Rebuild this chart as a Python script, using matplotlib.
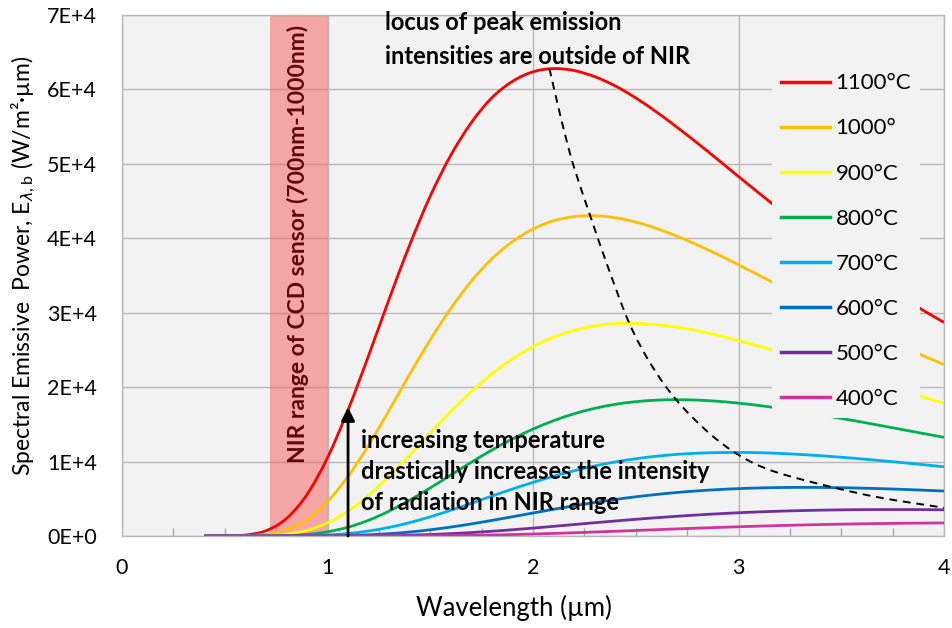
import matplotlib
matplotlib.use('Agg')
import matplotlib.pyplot as plt
from matplotlib.ticker import MultipleLocator
from matplotlib.path import Path
from matplotlib.patches import PathPatch
from matplotlib.lines import Line2D

plt.rcParams['font.family'] = ['Lato', 'DejaVu Sans']

# ---------------- data ----------------
wavelength = [0.4, 0.5, 0.6, 0.7, 0.8, 0.9, 1.0, 1.1, 1.2, 1.3, 1.4, 1.5, 1.6,
              1.7, 1.8, 1.9, 2.0, 2.1, 2.2, 2.3, 2.4, 2.5, 2.6, 2.7, 2.8, 2.9,
              3.0, 3.1, 3.2, 3.3, 3.4, 3.5, 3.6, 3.7, 3.8, 3.9, 4.0]

e_1100 = [0, 9, 126, 702, 2340, 5573, 10517, 16936, 24239, 31833, 39110, 45670,
          51157, 55543, 58888, 61083, 62367, 62799, 62540, 61719, 60483, 58860,
          56993, 54938, 52787, 50565, 48303, 46072, 43871, 41699, 39596, 37558,
          35608, 33769, 32018, 30296, 28706]
e_1000 = [0, 2, 32, 217, 837, 2228, 4620, 8012, 12206, 16896, 21729, 26351,
          30580, 34227, 37246, 39550, 41248, 42360, 42913, 43034, 42761, 42182,
          41331, 40295, 39106, 37811, 36447, 35032, 33611, 32184, 30766, 29380,
          28015, 26701, 25432, 24212, 23026]
e_900 = [0, 0, 6, 55, 251, 764, 1763, 3340, 5472, 8050, 10899, 13850, 16731,
         19393, 21772, 23802, 25443, 26720, 27640, 28223, 28534, 28574, 28399,
         28063, 27568, 26956, 26260, 25494, 24673, 23827, 22960, 22085, 21208,
         20348, 19499, 18666, 17861]
e_800 = [0, 0, 0, 11, 60, 215, 563, 1183, 2114, 3345, 4822, 6465, 8193, 9908,
         11541, 13039, 14360, 15490, 16420, 17150, 17687, 18049, 18247, 18314,
         18256, 18099, 17850, 17533, 17157, 16737, 16283, 15798, 15307, 14797,
         14285, 13770, 13260]
e_700 = [0, 0, 0, 0, 11, 46, 142, 338, 670, 1159, 1801, 2580, 3461, 4404, 5365,
         6310, 7205, 8030, 8767, 9406, 9944, 10376, 10716, 10967, 11122, 11206,
         11224, 11191, 11097, 10957, 10786, 10582, 10356, 10109, 9849, 9579, 9298]
e_600 = [0, 0, 0, 0, 0, 7, 26, 73, 164, 315, 538, 835, 1201, 1626, 2094, 2588,
         3089, 3585, 4059, 4500, 4905, 5266, 5578, 5845, 6062, 6235, 6366, 6455,
         6510, 6531, 6521, 6489, 6430, 6353, 6262, 6155, 6037]
e_500 = [0, 0, 0, 0, 0, 0, 3, 10, 28, 61, 117, 202, 317, 464, 640, 842, 1064,
         1298, 1539, 1781, 2017, 2243, 2455, 2650, 2827, 2985, 3121, 3238, 3334,
         3411, 3471, 3513, 3540, 3553, 3554, 3542, 3519]
e_400 = [0, 0, 0, 0, 0, 0, 0, 0, 3, 8, 16, 32, 56, 91, 138, 197, 267, 348, 438,
         535, 637, 742, 848, 952, 1053, 1150, 1240, 1325, 1403, 1473, 1536, 1591,
         1638, 1677, 1710, 1736, 1755]

series_labels = ['1100°C', '1000°', '900°C', '800°C', '700°C', '600°C', '500°C', '400°C']
series_values = [e_1100, e_1000, e_900, e_800, e_700, e_600, e_500, e_400]
series_colors = ['#ff0000', '#ffc000', '#ffff00', '#00b050', '#00b0f0',
                 '#0070c0', '#7030a0', '#d0359f']

# locus of peak emission (dashed)
locus_x = [2.08, 2.12, 2.16, 2.20, 2.28, 2.36, 2.47, 2.58, 2.70, 2.85, 3.00,
           3.17, 3.45, 3.70, 4.00]
locus_y = [62800, 58000, 53500, 49500, 42900, 36500, 28500, 22800, 18200,
           14000, 10900, 8700, 6600, 5100, 3800]

nir_band = [0.72, 1.0]
arrow_x = 1.1
arrow_top = 17300

y_ticks = [0, 10000, 20000, 30000, 40000, 50000, 60000, 70000]
y_tick_labels = ['0E+0', '1E+4', '2E+4', '3E+4', '4E+4', '5E+4', '6E+4', '7E+4']
x_ticks = [0, 1, 2, 3, 4]
x_tick_labels = ['0', '1', '2', '3', '4']


def smooth_path(xs, ys):
    """Smoothed (Catmull-Rom style Bezier) line through the data points,
    like a spreadsheet 'smoothed line'."""
    n = len(xs)
    verts = [(xs[0], ys[0])]
    codes = [Path.MOVETO]
    for i in range(n - 1):
        im1 = max(i - 1, 0)
        ip2 = min(i + 2, n - 1)
        c1 = (xs[i] + (xs[i + 1] - xs[im1]) / 6.0,
              ys[i] + (ys[i + 1] - ys[im1]) / 6.0)
        c2 = (xs[i + 1] - (xs[ip2] - xs[i]) / 6.0,
              ys[i + 1] - (ys[ip2] - ys[i]) / 6.0)
        verts += [c1, c2, (xs[i + 1], ys[i + 1])]
        codes += [Path.CURVE4] * 3
    return Path(verts, codes)


# ---------------- figure ----------------
W, H = 952, 628
fig = plt.figure(figsize=(W / 100, H / 100), dpi=100)
ax = fig.add_axes([122 / W, 92 / H, 822 / W, 521 / H])
ax.set_facecolor('#f2f2f2')
ax.set_xlim(0, 4)
ax.set_ylim(0, 70000)
ax.set_axisbelow(True)

ax.grid(True, which='major', color='#b8b8b8', lw=1)
ax.axvspan(nir_band[0], nir_band[1], facecolor='#f75a5a', alpha=0.5,
           edgecolor='none', zorder=1)

handles = []
for k, (vals, lab, col) in enumerate(zip(series_values, series_labels, series_colors)):
    patch = PathPatch(smooth_path(wavelength, vals), facecolor='none',
                      edgecolor=col, lw=2.0, capstyle='butt', joinstyle='round',
                      zorder=3 + 0.01 * k)
    ax.add_patch(patch)
    handles.append(Line2D([], [], color=col, lw=2.5, label=lab))

ax.add_patch(PathPatch(smooth_path(locus_x, locus_y), facecolor='none',
                       edgecolor='black', lw=1.4, ls=(0, (4, 3)), zorder=4))

ax.annotate('', xy=(arrow_x, arrow_top), xytext=(arrow_x, 0),
            arrowprops=dict(arrowstyle='-|>', color='black', lw=2,
                            mutation_scale=20, shrinkA=0, shrinkB=0), zorder=5)

ax.text(0.857, 39200, 'NIR range of CCD sensor (700nm-1000nm)', rotation=90,
        ha='center', va='center', fontsize=16.5, fontweight='bold',
        color='#5e0a0a', zorder=5)
ax.text(1.28, 70550, 'locus of peak emission\nintensities are outside of NIR',
        ha='left', va='top', fontsize=17, fontweight='bold', color='black',
        linespacing=1.6, zorder=5)
ax.text(1.165, 14400,
        'increasing temperature\ndrastically increases the intensity\nof radiation in NIR range',
        ha='left', va='top', fontsize=17, fontweight='bold', color='black',
        linespacing=1.43, zorder=5)

ax.set_yticks(y_ticks)
ax.set_yticklabels(y_tick_labels)
ax.set_xticks(x_ticks)
ax.set_xticklabels(x_tick_labels)
ax.xaxis.set_minor_locator(MultipleLocator(0.25))
ax.tick_params(axis='both', which='major', length=0, labelsize=15.5,
               colors='black')
ax.tick_params(axis='y', which='major', pad=18)
ax.tick_params(axis='x', which='major', pad=16)
ax.tick_params(axis='x', which='minor', direction='in', length=6,
               color='#a6a6a6', width=1)
for sp in ax.spines.values():
    sp.set_color('#b8b8b8')
    sp.set_linewidth(1)

ax.set_xlabel('Wavelength (µm)', fontsize=18.5)
ax.xaxis.set_label_coords(0.477, -0.113)
ax.set_ylabel(r'Spectral Emissive  Power, E$_{\lambda\mathregular{,b}}$ (W/m²·µm)',
              fontsize=16.5)
ax.yaxis.set_label_coords(-0.102, 0.518)

leg = ax.legend(handles=handles, loc='upper left',
                bbox_to_anchor=(0.791, 0.905), borderaxespad=0, fontsize=16,
                frameon=True, facecolor='#f2f2f2', edgecolor='none',
                framealpha=1, fancybox=False, handlelength=2.2,
                handletextpad=0.25, labelspacing=1.13, borderpad=0.4)
leg.set_zorder(10)

fig.savefig('out.png', dpi=100)
